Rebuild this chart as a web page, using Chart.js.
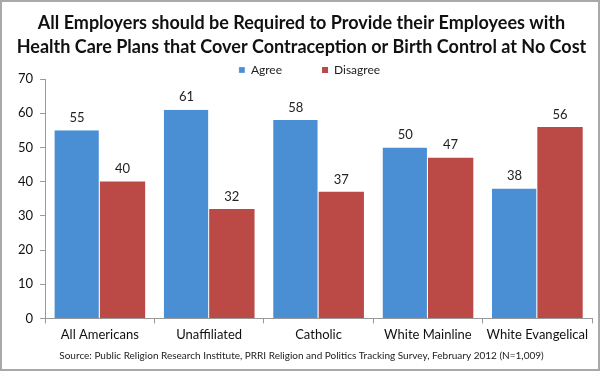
<!DOCTYPE html>
<html><head><meta charset="utf-8">
<script src="https://cdn.jsdelivr.net/npm/chart.js@4"></script>
<style>
html,body{margin:0;padding:0;background:#fff;}
#wrap{position:relative;width:596px;height:367px;border:2px solid #a9a9a9;}
canvas{display:block;}
</style></head>
<body><div id="wrap"><canvas id="c" width="596" height="367"></canvas></div>
<script>
const categories = ["All Americans","Unaffiliated","Catholic","White Mainline","White Evangelical"];
const agree = [55,61,58,50,38];
const disagree = [40,32,37,47,56];
const seriesNames = ["Agree","Disagree"];
const yTicks = [0,10,20,30,40,50,60,70];
const titleLines = ["All Employers should be Required to Provide their Employees with","Health Care Plans that Cover Contraception or Birth Control at No Cost"];
const sourceText = "Source: Public Religion Research Institute, PRRI Religion and Politics Tracking Survey, February 2012 (N=1,009)";

const FONT = "Lato, 'Open Sans', sans-serif";

const labelPlugin = {
  id:'labels',
  afterDatasetsDraw(chart){
    const ctx = chart.ctx;
    ctx.save();
    ctx.font = "13px " + FONT;
    ctx.fillStyle = "#222";
    ctx.textAlign = "center";
    ctx.textBaseline = "bottom";
    chart.data.datasets.forEach((ds,i)=>{
      chart.getDatasetMeta(i).data.forEach((bar,j)=>{
        ctx.fillText(ds.data[j], bar.x, bar.y - 6);
      });
    });
    ctx.restore();
  }
};

const legendFit = {
  id:'legendFit',
  beforeInit(chart){
    const lg = chart.legend;
    if(!lg) return;
    const origFit = lg.fit;
    lg.fit = function(){ origFit.call(this); this.height = 55; };
    const origDraw = lg.draw;
    lg.draw = function(){
      const ctx = this.ctx;
      ctx.save(); ctx.translate(8,0);
      origDraw.call(this);
      ctx.restore();
    };
  }
};

new Chart(document.getElementById('c'), {
  type:'bar',
  data:{
    labels:categories,
    datasets:[
      {label:seriesNames[0], data:agree, backgroundColor:'#4a8fd4', borderColor:'#ffffff', borderWidth:{right:1}, borderSkipped:'bottom', categoryPercentage:0.83, barPercentage:1.0},
      {label:seriesNames[1], data:disagree, backgroundColor:'#bb4a47', borderWidth:0, categoryPercentage:0.83, barPercentage:1.0}
    ]
  },
  options:{
    responsive:false,
    animation:false,
    layout:{padding:{left:9,right:6,top:0,bottom:0}},
    plugins:{
      title:{display:true, text:titleLines, color:'#111', font:{family:FONT,size:18,weight:'bold',lineHeight:24/18}, padding:{top:9,bottom:-35}},
      legend:{display:true, position:'top', labels:{boxWidth:6, boxHeight:6, color:'#222', font:{family:FONT,size:12}, padding:40}},
      subtitle:{display:true, position:'bottom', text:sourceText, color:'#222', font:{family:FONT,size:10,lineHeight:1.2}, padding:{top:3,bottom:7}},
      tooltip:{enabled:false}
    },
    scales:{
      x:{
        offset:true,
        grid:{display:true, drawOnChartArea:false, drawTicks:true, tickLength:5, offset:true, color:'#999'},
        border:{color:'#999'},
        ticks:{color:'#111', font:{family:FONT,size:13}, padding:4, maxRotation:0, minRotation:0, autoSkip:false}
      },
      y:{
        min:yTicks[0], max:yTicks[yTicks.length-1],
        afterBuildTicks(scale){ scale.ticks = yTicks.map(v=>({value:v})); },
        ticks:{color:'#111', font:{family:FONT,size:13}, padding:7},
        grid:{display:true, drawOnChartArea:false, drawTicks:true, tickLength:5, color:'#999'},
        border:{color:'#999'}
      }
    }
  },
  plugins:[labelPlugin, legendFit]
});
</script></body></html>
